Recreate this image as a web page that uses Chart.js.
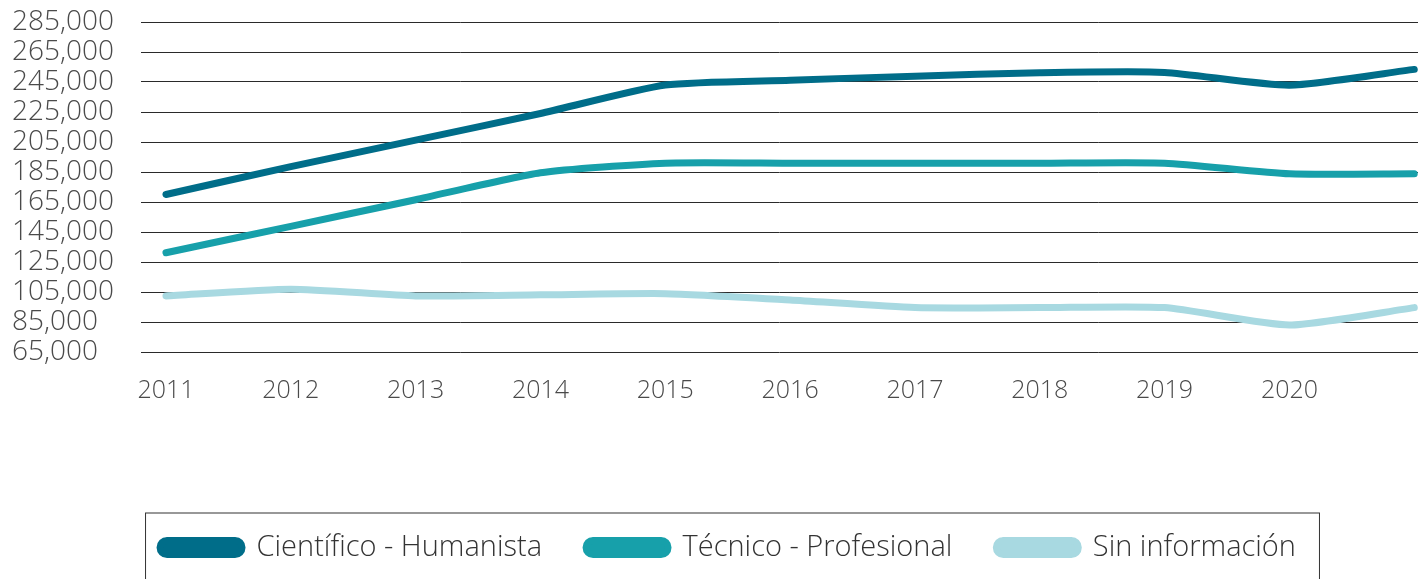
<!DOCTYPE html>
<html>
<head>
<meta charset="utf-8">
<script src="https://cdn.jsdelivr.net/npm/chart.js@4.4.1/dist/chart.umd.min.js"></script>
<style>
    html, body { margin: 0; padding: 0; background: #fff; overflow: hidden; }
    #wrap { position: relative; width: 1418px; height: 579px; }
</style>
</head>
<body>
<div id="wrap"><canvas id="matriculaChart"></canvas></div>
<script>
// Tick labels on the x axis (the last data point has no label in the original)
var years = ['2011', '2012', '2013', '2014', '2015', '2016', '2017', '2018', '2019', '2020'];

// Series values, one per point (11 points)
var cientificoHumanista = [170000, 188600, 206200, 224000, 243000, 246200, 248900, 251200, 251400, 242900, 253400];
var tecnicoProfesional  = [131150, 148800, 166500, 184500, 190900, 190900, 190900, 190900, 190900, 183800, 183800];
var sinInformacion      = [102400, 106900, 102400, 103100, 103900, 99700, 94600, 94600, 94600, 83000, 94600];

var seriesNames = ['Científico - Humanista', 'Técnico - Profesional', 'Sin información'];

var fontFamily = '"Open Sans", "DejaVu Sans", sans-serif';

function toPoints(values) {
    return values.map(function(v, i) { return { x: i, y: v }; });
}

// nudges the legend a little to the right and draws the frame around it
var legendFrame = {
    id: 'legendFrame',
    beforeDraw: function(chart) {
        var lg = chart.legend;
        var shift = 13;
        lg.left += shift;
        lg.right += shift;
        lg.legendHitBoxes.forEach(function(hb) { hb.left += shift; });
    },
    afterDraw: function(chart) {
        var hb = chart.legend.legendHitBoxes;
        if (!hb || !hb.length) return;
        var first = hb[0];
        var last = hb[hb.length - 1];
        var left = first.left - 15;
        var right = last.left + last.width + 23;
        var top = first.top + first.height / 2 - 35;
        var ctx = chart.ctx;
        ctx.save();
        ctx.strokeStyle = '#333';
        ctx.lineWidth = 1;
        ctx.strokeRect(left + 0.5, top + 0.5, right - left, 200);
        ctx.restore();
    }
};

function makeDataset(label, values, color) {
    return {
        label: label,
        data: toPoints(values),
        borderColor: color,
        backgroundColor: color,
        borderWidth: 7,
        borderCapStyle: 'round',
        borderJoinStyle: 'round',
        pointRadius: 0,
        tension: 0.2
    };
}

var ctx = document.getElementById('matriculaChart').getContext('2d');
var matriculaChart = new Chart(ctx, {
    type: 'line',
    data: {
        datasets: [
            makeDataset(seriesNames[0], cientificoHumanista, '#006d89'),
            makeDataset(seriesNames[1], tecnicoProfesional, '#17a0aa'),
            makeDataset(seriesNames[2], sinInformacion, '#a8d9e1')
        ]
    },
    options: {
        responsive: true,
        maintainAspectRatio: false,
        animation: false,
        layout: {
            padding: { left: 12, top: 22, right: 0, bottom: 7 }
        },
        plugins: {
            tooltip: { enabled: false },
            legend: {
                position: 'bottom',
                labels: {
                    color: '#333',
                    font: { family: fontFamily, size: 29, weight: '300' },
                    boxWidth: 82,
                    boxHeight: 14,
                    useBorderRadius: true,
                    borderRadius: 7,
                    padding: 44
                }
            }
        },
        scales: {
            x: {
                type: 'linear',
                min: -0.2,
                max: 10.03,
                grid: { display: false },
                border: { display: false },
                afterBuildTicks: function(axis) {
                    axis.ticks = years.map(function(y, i) { return { value: i }; });
                },
                afterFit: function(axis) { axis.height = 137; },
                ticks: {
                    padding: 16,
                    maxRotation: 0,
                    color: '#4a4a4a',
                    font: { family: fontFamily, size: 25, weight: '300' },
                    callback: function(value) { return years[value] || ''; }
                }
            },
            y: {
                min: 65000,
                max: 285000,
                border: { display: false },
                grid: { color: '#2a2a2a', lineWidth: 1, drawTicks: false },
                afterFit: function(axis) { axis.width = 129; },
                ticks: {
                    stepSize: 20000,
                    autoSkip: false,
                    crossAlign: 'far',
                    padding: 0,
                    color: '#4a4a4a',
                    font: { family: fontFamily, size: 28, weight: '300' },
                    callback: function(value) { return value.toLocaleString('en-US'); }
                }
            }
        }
    },
    plugins: [legendFrame]
});
</script>
</body>
</html>
